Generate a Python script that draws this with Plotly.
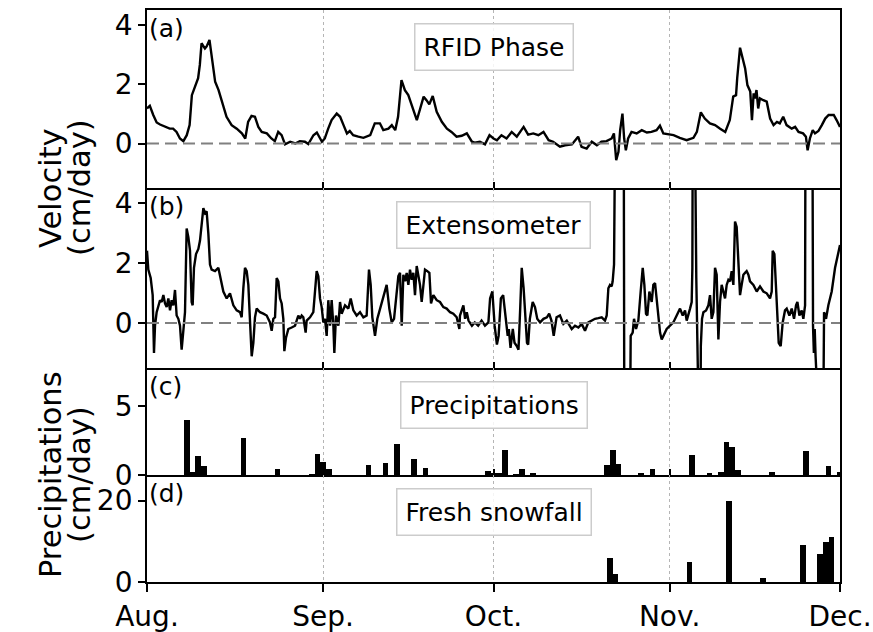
import pandas as pd
import plotly.graph_objects as go
from plotly.subplots import make_subplots

START = "2017-08-01"
END = "2017-12-01"

month_ticks = ["2017-08-01", "2017-09-01", "2017-10-01", "2017-11-01", "2017-12-01"]
month_labels = ["Aug.", "Sep.", "Oct.", "Nov.", "Dec."]

# (a) RFID phase velocity, days since Aug 1 / cm per day
rfid_day = [0.0, 0.5, 1.1, 1.7, 2.3, 3.2, 4.0, 4.6, 5.2, 5.8, 6.4, 7.0, 7.5, 7.9, 8.5, 9.0, 9.3, 9.6,
            10.2, 10.5, 11.0, 11.4, 12.0, 12.6, 13.4, 14.0, 14.9, 15.8, 16.7, 17.3, 17.8, 18.4, 19.0,
            19.6, 20.2, 21.1, 21.9, 22.5, 23.1, 23.7, 24.3, 25.2, 26.1, 26.9, 27.8, 28.4, 29.3, 29.9,
            30.8, 31.3, 31.9, 32.5, 33.4, 34.0, 34.6, 35.2, 35.7, 36.3, 37.2, 38.1, 39.3, 40.1, 41.0,
            41.6, 42.5, 43.1, 43.7, 44.2, 44.8, 45.4, 46.0, 46.6, 47.2, 47.5, 48.1, 48.7, 49.2, 49.7,
            50.3, 51.0, 51.9, 52.8, 53.6, 54.5, 55.4, 56.3, 57.2, 57.7, 58.6, 59.5, 60.3, 61.0,
            61.6, 62.4, 63.3, 64.2, 65.1, 66.3, 67.1, 68.0, 68.9, 69.8, 70.7, 71.5, 72.7, 73.6, 74.8,
            75.9, 76.5, 77.4, 78.3, 79.2, 80.0, 80.9, 81.8, 82.2, 82.6, 83.0, 83.3, 83.7, 84.0, 84.3,
            84.7, 85.3, 86.2, 87.1, 88.0, 88.8, 89.7, 90.3, 90.9, 91.8, 92.7, 93.8, 95.0, 96.2, 96.8,
            97.5, 98.2, 99.1, 100.0, 100.9, 101.8, 102.6, 103.2, 103.7, 103.9, 104.4, 104.9, 105.3,
            105.7, 106.2, 106.5, 106.8, 107.0, 107.3, 107.6, 107.9, 108.5, 109.1, 109.7, 110.3, 110.9,
            111.4, 112.0, 112.6, 113.5, 114.1, 114.7, 115.5, 116.0, 116.3, 116.7, 117.2, 117.6, 118.2,
            118.8, 119.4, 120.0, 120.9, 121.4, 122.0]
rfid_vel = [1.18, 1.27, 0.96, 0.71, 0.64, 0.56, 0.5, 0.5, 0.39, 0.17, 0.08, 0.28, 0.62, 1.63, 1.91, 2.2,
            2.65, 3.38, 3.2, 3.27, 3.49, 2.98, 2.08, 1.8, 1.3, 0.9, 0.62, 0.5, 0.34, 0.17, 0.73, 0.93,
            0.9, 0.56, 0.39, 0.34, 0.17, 0.08, 0.39, 0.28, -0.03, 0.06, 0.0, 0.08, 0.06, -0.02, 0.28,
            0.37, 0.06, 0.17, 0.5, 0.79, 1.01, 0.9, 0.62, 0.34, 0.42, 0.28, 0.23, 0.19, 0.28, 0.68,
            0.68, 0.45, 0.5, 0.62, 0.45, 0.9, 2.14, 1.8, 1.63, 1.3, 1.01, 0.79, 1.18, 1.58, 1.46, 1.32,
            1.6, 1.07, 0.73, 0.5, 0.39, 0.23, 0.26, 0.34, 0.06, 0.03, 0.06, -0.03, 0.28, 0.17,
            0.11, 0.28, 0.17, 0.39, 0.23, 0.56, 0.3, 0.34, 0.28, 0.39, 0.11, 0.06, -0.11, -0.06, -0.03,
            0.23, -0.11, -0.17, 0.06, -0.06, 0.06, 0.08, 0.17, 0.34, -0.56, -0.28, 0.45, 1.01, 0.17,
            -0.23, 0.17, 0.39, 0.34, 0.45, 0.37, 0.39, 0.45, 0.6, 0.34, 0.3, 0.28, 0.19, 0.11, 0.19,
            0.39, 1.05, 0.84, 0.68, 0.62, 0.5, 0.39, 0.79, 1.58, 1.63, 2.2, 3.23, 2.82, 2.53, 1.97,
            1.75, 0.79, 1.69, 1.52, 1.8, 1.18, 1.52, 1.46, 1.41, 0.84, 0.62, 0.73, 0.68, 0.9, 0.62,
            0.5, 0.56, 0.39, 0.34, 0.23, -0.23, 0.17, 0.45, 0.34, 0.42, 0.62, 0.84, 0.96, 0.96, 0.79,
            0.56]

# (b) Extensometer velocity (values beyond the axis run off the panel)
ext_day = [0.0, 0.23, 0.65, 1.0, 1.23, 1.41, 1.7, 2.0, 2.29, 2.58, 2.88, 3.17, 3.46, 3.76, 4.05, 4.34,
           4.64, 4.93, 5.22, 5.52, 5.81, 6.1, 6.4, 6.69, 6.98, 7.28, 7.57, 7.86, 8.04, 8.27, 8.63,
           9.04, 9.33, 9.62, 9.92, 10.21, 10.5, 10.8, 11.09, 11.38, 11.97, 12.56, 12.85, 13.44,
           14.03, 14.61, 15.2, 15.79, 16.37, 16.67, 16.96, 17.25, 17.55, 17.84, 18.13, 18.43, 18.72,
           19.01, 19.31, 19.89, 20.48, 21.07, 21.65, 21.95, 22.24, 22.54, 22.83, 23.12, 23.42, 23.71,
           24.0, 24.18, 24.47, 24.88, 25.47, 26.06, 26.64, 26.94, 27.23, 27.52, 27.93, 28.11, 28.7,
           29.28, 29.87, 30.16, 30.46, 30.75, 31.04, 31.34, 31.63, 31.92, 32.22, 32.51, 32.81, 32.98,
           33.27, 33.69, 33.98, 34.27, 34.86, 35.45, 35.86, 36.33, 36.91, 37.5, 38.09, 38.67, 39.08,
           39.38, 39.67, 40.14, 40.55, 41.02, 41.61, 42.19, 42.66, 43.08, 43.49, 43.95, 44.25, 44.54,
           44.84, 45.13, 45.42, 45.72, 46.01, 46.3, 46.6, 46.89, 47.18, 47.48, 47.77, 48.06, 48.36,
           48.65, 48.94, 49.35, 49.71, 50.0, 50.41, 51.0, 51.58, 52.17, 52.76, 53.35, 53.93, 54.52,
           54.99,
           55.1, 55.7, 56.0, 56.3, 56.6, 57.2, 57.7, 58.3, 58.9, 59.5, 60.1, 60.4, 60.8, 61.2, 61.6,
           61.9, 62.3, 62.7, 63.1, 63.5, 63.7, 64.0, 64.4, 64.7, 65.1, 65.4, 65.7, 65.97, 66.3, 66.6,
           66.9, 67.1, 67.4, 67.9, 68.3, 68.7, 69.2, 69.8, 70.4, 70.8, 71.2, 71.6, 72.1, 72.7, 73.3,
           73.9, 74.5,
           74.77, 75.35, 75.94, 76.53, 77.11, 77.7, 78.29, 78.87, 79.46, 80.05, 80.63, 80.93, 81.22,
           81.51, 81.81, 81.98, 82.22, 82.39, 82.55, 83.9, 84.05, 84.95, 85.15, 85.5, 85.74, 86.09,
           86.5, 86.91, 87.27, 87.56, 87.85, 88.09, 88.44, 88.85, 89.14, 89.44, 89.73, 90.02, 90.32,
           90.61, 90.91, 91.49, 92.08, 92.66, 93.25, 93.84, 94.31, 94.72, 95.01, 95.31, 95.6, 95.89,
           96.01, 96.12, 96.3, 96.7, 96.9, 97.2, 97.38, 97.5, 97.71, 97.95, 98.42, 98.83, 99.12,
           99.41, 99.71, 100.0, 100.29, 100.59, 100.88, 101.17, 101.47, 101.76, 102.05, 102.35,
           102.64, 102.93, 103.23, 103.52, 103.81, 104.11, 104.4, 104.69, 104.99, 105.28, 105.57,
           105.87, 106.16, 106.75, 107.34, 107.92, 108.51, 109.1, 109.68, 109.98, 110.15, 110.45,
           110.74, 110.98, 111.21, 111.56, 111.91, 112.32, 112.62, 113.09, 113.5, 113.91, 114.26,
           114.5, 114.85, 115.26, 115.55, 115.85, 115.96, 117.1, 117.25, 117.4, 117.55, 117.7,
           117.85, 118.96, 119.19, 119.54, 119.95, 120.54, 121.13, 121.54, 122.0]
ext_vel = [2.41, 1.78, 1.5, 0.93, -1.0, -0.09, 0.36, 0.53, 0.76, 0.7, 0.93, 0.65, 0.53, 0.82, 0.42, 0.76,
           0.59, 1.1, 0.25, 0.14, -0.09, -0.89, -0.32, 0.36, 3.15, 2.86, 2.41, 0.7, 0.59, 1.84, 2.3,
           2.47, 2.75, 3.2, 3.83, 3.66, 3.72, 2.98, 1.95, 1.78, 1.73, 1.84, 1.56, 1.05,
           0.82, 0.99, 0.59, 0.42, 0.36, 0.19, 1.16, 1.84, 1.73, 1.27, 0.08, -1.11, -0.66,
           0.19, 0.48, 0.36, 0.31, 0.25, 0.02, -0.26, 0.14, 0.19, 1.5, 1.39, 0.82, 0.65,
           0.14, -0.94, -0.49, -0.2, -0.15, -0.09, 0.25, 0.14, 0.25, 0.19, -0.32, 0.08, 0.19,
           0.36, 1.73, 1.56, 0.82, 0.53, 0.02, 0.14, -0.43, 0.76, -0.09, 0.76, -0.09, -1.0,
           0.25, -0.09, 0.7, 0.31, 0.59, 0.48, 0.82, 0.42, 0.25, 0.36, 0.19, 0.25, 1.78,
           1.27, 0.19, -0.43, 0.14, 0.48, 0.82, 1.27, 0.48, 0.02, 0.14, 0.93, 1.56, 1.67,
           -0.09, 1.61, 1.39, 1.67, 1.27, 1.78, 1.44, 1.67, 0.93, 1.9, 1.61, 1.27, 0.7,
           1.16, 1.78, 1.73, 1.67, 0.65, 0.93, 0.76, 0.7, 0.53, 0.48, 0.36, 0.31, 0.19,
           -0.2,
           0.25, 0.59, 0.14, 0.36, 0.08, -0.09, 0.02, -0.09, 0.08, -0.09, 0.02, 0.82, 1.05, -0.09, -0.72,
           -0.43, 0.82, 0.93, 0.25, -0.43, -0.2, -0.83, -0.2, -0.66, -0.77, -0.89, 0.48, 1.84, 1.16, 0.02,
           -0.66, -0.72, 0.14, 0.7, 0.53, 0.14, 0.02, 0.14, 0.19, 0.31, 0.08, -0.43, 0.19, 0.25, -0.03,
           0.08, -0.09,
           -0.2, -0.09, -0.15, -0.03, -0.26, 0.02, 0.08, 0.14, 0.16, 0.19, 0.08, 0.25, 1.16,
           1.27, 1.22, 1.39, 1.95, 2.98, 10.0, 10.0, -6.0, -6.0, -0.43, -0.32, 0.14, -0.2,
           0.08, 1.05, 1.84, 1.27, 0.31, 0.25, 1.05, 0.7, 1.27, 1.33, 0.7, 0.14, -0.32,
           -0.55, -0.43, -0.2, -0.09, 0.02, 0.25, 0.48, 0.25, 0.42, 0.08, 0.25, 0.48, 0.7,
           1.84, 10.0, 10.0, 1.5, 0.3, -6.0, -6.0, -0.77, 0.14, 0.36, 0.42, 0.59, 0.93,
           0.14, 0.36, 1.84, 1.61, -0.55, 0.7, 1.27, 1.05, 0.82, 1.27, 1.44,
           1.39, 1.73, 1.27, 3.38, 3.2, 1.95, 0.93, 1.27, 1.61, 1.67, 1.73,
           1.61, 1.39, 1.27, 1.05, 1.22, 1.05, 0.99, 0.82, 1.05, 2.41, 2.3,
           1.05, 0.36, -0.66, -0.77, 0.02, 0.42, 0.48, 0.25, 0.48, 0.14, 0.59,
           0.7, 0.25, 0.42, 0.14, 0.59, 10.0, 10.0, -0.09, -1.0, -0.2, -1.1,
           -6.0, -6.0, 0.36, 0.14, 0.59, 1.05, 1.84, 2.18, 2.6]

# (c) Daily precipitation (day index since Aug 1, cm/day)
precip_day = [7, 8, 9, 10, 17, 23, 29, 30, 31, 32, 39, 42, 44, 47, 49, 60, 61, 62, 63, 65, 66, 68,
              81, 82, 83, 87, 89, 96, 99, 101, 102, 103, 104, 110, 116, 120, 122]
precip_val = [3.95, 0.2, 1.34, 0.66, 2.66, 0.46, 0.05, 1.51, 0.95, 0.41, 0.73, 0.85, 2.24, 1.15, 0.51,
              0.29, 0.17, 0.15, 1.8, 0.05, 0.41, 0.12, 0.69, 1.77, 0.8, 0.17, 0.41, 1.45, 0.14, 0.2,
              2.41, 2.05, 0.34, 0.24, 1.74, 0.65, 0.25]

# (d) Fresh snowfall (day since Aug 1, cm/day)
snow_day = [81.5, 82.5, 95.5, 102.5, 108.5, 115.5, 118.5, 119.5, 120.5]
snow_val = [5.9, 2.0, 4.9, 19.8, 0.9, 9.0, 6.9, 9.9, 11.1]

base = pd.Timestamp(START)
def to_dates(days):
    return base + pd.to_timedelta(days, unit="D")

FONT = "DejaVu Sans"
TICK_SIZE = 28
LABEL_SIZE = 30.5
TXT_SIZE = 25

# the page body keeps an 8px top/left offset: size the figure so the plot area lands where it should
W, H = 865, 624
ML, MR, MT, MB = 139, 33, 2, 50
PW, PH = W - ML - MR, H - MT - MB

fig = make_subplots(rows=4, cols=1, shared_xaxes=True, vertical_spacing=0,
                    row_heights=[178, 180, 107, 107])

fig.add_trace(go.Scatter(x=to_dates(rfid_day), y=rfid_vel, mode="lines",
                         line=dict(color="black", width=2.4)), row=1, col=1)
fig.add_trace(go.Scatter(x=to_dates(ext_day), y=ext_vel, mode="lines",
                         line=dict(color="black", width=2.4)), row=2, col=1)
fig.add_trace(go.Bar(x=to_dates(precip_day), y=precip_val, width=86400000,
                     marker=dict(color="black", line=dict(width=0))), row=3, col=1)
fig.add_trace(go.Bar(x=to_dates(snow_day), y=snow_val, width=86400000,
                     marker=dict(color="black", line=dict(width=0))), row=4, col=1)

for r in (1, 2):
    fig.add_hline(y=0, row=r, col=1, line=dict(color="#808080", width=2, dash="12px,6px"))

y_ranges = [[-1.5, 4.5], [-1.5, 4.5], [0, 7.72], [0, 26.3]]
y_ticks = [[0, 2, 4], [0, 2, 4], [0, 5], [0, 20]]
for r in range(1, 5):
    fig.update_xaxes(row=r, col=1, range=[START, END], tickvals=month_ticks, ticktext=month_labels,
                     showticklabels=(r == 4), ticks=("outside" if r == 4 else "inside"),
                     ticklen=(8 if r == 4 else 6), tickwidth=1.5, tickcolor="black",
                     showline=True, mirror=(r == 1), linecolor="black", linewidth=1.8,
                     showgrid=True, gridcolor="#b5b5b5", griddash="dot", gridwidth=1.3,
                     zeroline=False, automargin=False,
                     tickfont=dict(family=FONT, size=TICK_SIZE, color="black"))
    fig.update_yaxes(row=r, col=1, range=y_ranges[r - 1], tickvals=y_ticks[r - 1],
                     ticks="outside", ticklen=7, tickwidth=1.5, tickcolor="black",
                     showline=True, mirror=True, linecolor="black", linewidth=1.8,
                     showgrid=False, zeroline=False, automargin=False,
                     tickfont=dict(family=FONT, size=TICK_SIZE, color="black"))

panel_letters = ["(a)", "(b)", "(c)", "(d)"]
panel_titles = ["RFID Phase", "Extensometer", "Precipitations", "Fresh snowfall"]
for i in range(4):
    ax = "" if i == 0 else str(i + 1)
    fig.add_annotation(text=panel_letters[i], xref=f"x{ax} domain", yref=f"y{ax} domain",
                       x=0, y=1, xanchor="left", yanchor="top", xshift=0, yshift=-2,
                       showarrow=False, font=dict(family=FONT, size=TXT_SIZE, color="black"))
    fig.add_annotation(text=panel_titles[i], xref=f"x{ax}", yref=f"y{ax} domain",
                       x="2017-10-01", y=1, xanchor="center", yanchor="top", yshift=-13,
                       showarrow=False, bgcolor="rgba(255,255,255,0.85)",
                       bordercolor="#cccccc", borderwidth=1.5, borderpad=8,
                       font=dict(family=FONT, size=TXT_SIZE, color="black"))

def px_x(px):
    return (px - 147) / PW
def px_y(py):
    return 1 - (py - 10) / PH

for line_text, cx in (("Velocity", 50), ("(cm/day)", 79)):
    fig.add_annotation(text=line_text, xref="paper", yref="paper", x=px_x(cx), y=px_y(188),
                       textangle=-90, xanchor="center", yanchor="middle", showarrow=False,
                       font=dict(family=FONT, size=LABEL_SIZE, color="black"))
for line_text, cx in (("Precipitations", 50), ("(cm/day)", 79)):
    fig.add_annotation(text=line_text, xref="paper", yref="paper", x=px_x(cx), y=px_y(475),
                       textangle=-90, xanchor="center", yanchor="middle", showarrow=False,
                       font=dict(family=FONT, size=LABEL_SIZE, color="black"))

fig.update_layout(width=W, height=H, margin=dict(l=ML, r=MR, t=MT, b=MB),
                  plot_bgcolor="white", paper_bgcolor="white", showlegend=False,
                  bargap=0, font=dict(family=FONT, color="black"))

# drop the body's right/bottom margin so the page does not overflow the window
fig.write_html("out.html", post_script="document.body.style.margin='8px 0px 0px 8px';")
